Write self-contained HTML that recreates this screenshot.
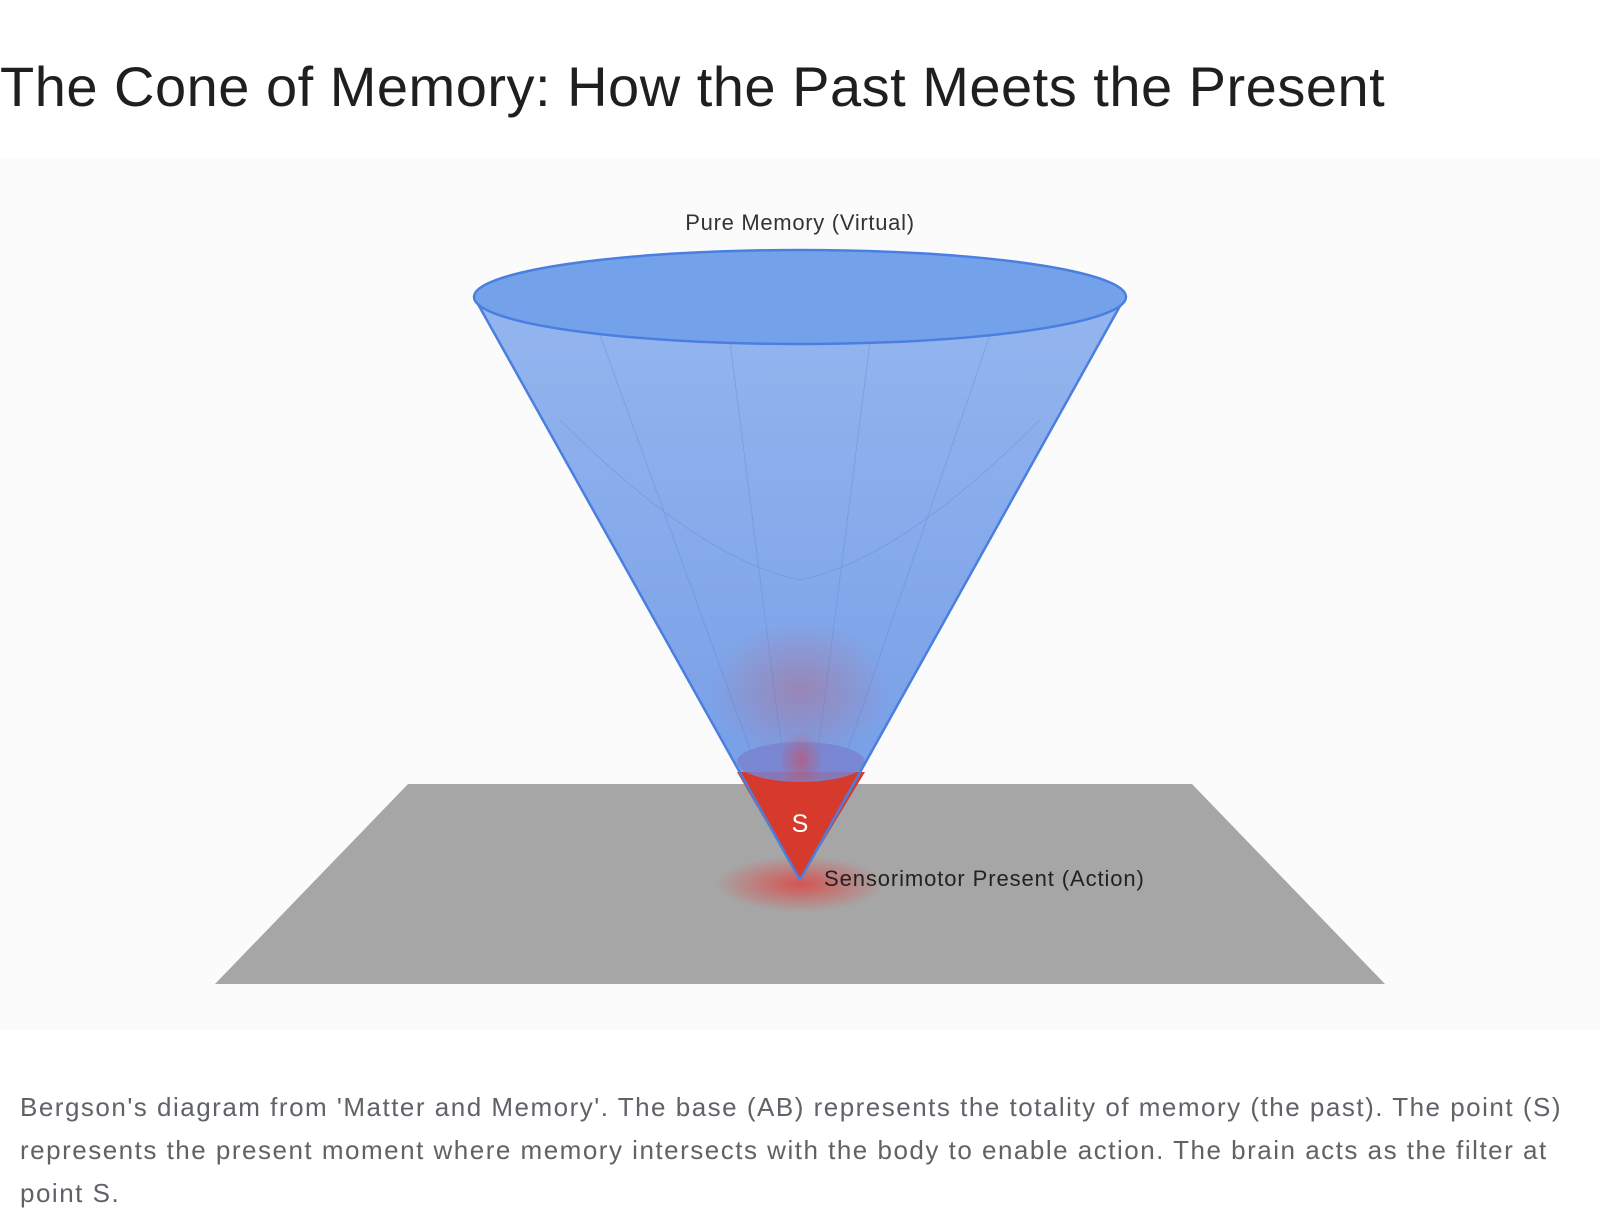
<!DOCTYPE html>
<html><head><meta charset="utf-8"><style>
html,body{margin:0;padding:0;width:1600px;height:1226px;background:#fff;overflow:hidden;font-family:"Liberation Sans",sans-serif}
h1{position:absolute;left:0;top:54px;margin:0;font-weight:400;font-size:56px;color:#1f1f1f;letter-spacing:0.5px;white-space:nowrap}
.cap{position:absolute;left:20px;top:1086px;width:1580px;font-size:26px;line-height:43px;color:#5f6368;white-space:nowrap;letter-spacing:1.5px}
svg{position:absolute;left:0;top:0}
</style></head><body>
<h1>The Cone of Memory: How the Past Meets the Present</h1>
<svg width="1600" height="1226" viewBox="0 0 1600 1226">
<defs>
<linearGradient id="cone" x1="0" y1="0" x2="0" y2="1">
<stop offset="0" stop-color="#8fb2ee"/><stop offset="1" stop-color="#6b95e4"/>
</linearGradient>
<radialGradient id="glow" cx="0.5" cy="0.5" r="0.5">
<stop offset="0" stop-color="#e53935" stop-opacity="0.75"/><stop offset="1" stop-color="#e53935" stop-opacity="0"/>
</radialGradient>
<radialGradient id="glow2" cx="0.5" cy="0.5" r="0.5">
<stop offset="0" stop-color="#d84040" stop-opacity="0.6"/><stop offset="1" stop-color="#d84040" stop-opacity="0"/>
</radialGradient>
</defs>
<rect x="0" y="158" width="1600" height="872" fill="#fbfbfb"/>
<polygon points="408,784 1192,784 1385,984 215,984" fill="#a6a6a6"/>
<ellipse cx="800" cy="884" rx="85" ry="28" fill="url(#glow)"/>
<polygon points="474,297 1125,297 800,880" fill="url(#cone)" opacity="0.95"/>
<g stroke="#5a83d6" stroke-width="1" opacity="0.35" fill="none">
<line x1="600" y1="335" x2="790" y2="860"/><line x1="730" y1="342" x2="796" y2="860"/>
<line x1="870" y1="342" x2="804" y2="860"/><line x1="990" y1="335" x2="810" y2="860"/>
<path d="M560 420 Q700 560 800 580 Q900 560 1040 420"/>
</g>
<ellipse cx="800" cy="690" rx="90" ry="70" fill="url(#glow2)" opacity="0.5"/>
<polygon points="737,772 865,772 800,880" fill="#d63a2c"/>
<ellipse cx="801" cy="762" rx="64" ry="20" fill="#7a82cf" opacity="0.85"/>
<ellipse cx="801" cy="760" rx="22" ry="30" fill="url(#glow)" opacity="0.6"/>
<line x1="474" y1="297" x2="800" y2="880" stroke="#4a7fe0" stroke-width="2.5"/>
<line x1="1125" y1="297" x2="800" y2="880" stroke="#4a7fe0" stroke-width="2.5"/>
<ellipse cx="800" cy="297" rx="326" ry="47" fill="#74a2ea" stroke="#4a7fe0" stroke-width="2.5"/>
<text x="800" y="230" text-anchor="middle" font-family="Liberation Sans,sans-serif" font-size="22" letter-spacing="0.7" fill="#333">Pure Memory (Virtual)</text>
<text x="800" y="832" text-anchor="middle" font-family="Liberation Sans,sans-serif" font-size="25" fill="#fff">S</text>
<text x="824" y="886" font-family="Liberation Sans,sans-serif" font-size="22" letter-spacing="0.9" fill="#222">Sensorimotor Present (Action)</text>
</svg>
<div class="cap">Bergson's diagram from 'Matter and Memory'. The base (AB) represents the totality of memory (the past). The point (S)<br>represents the present moment where memory intersects with the body to enable action. The brain acts as the filter at<br>point S.</div>
</body></html>
